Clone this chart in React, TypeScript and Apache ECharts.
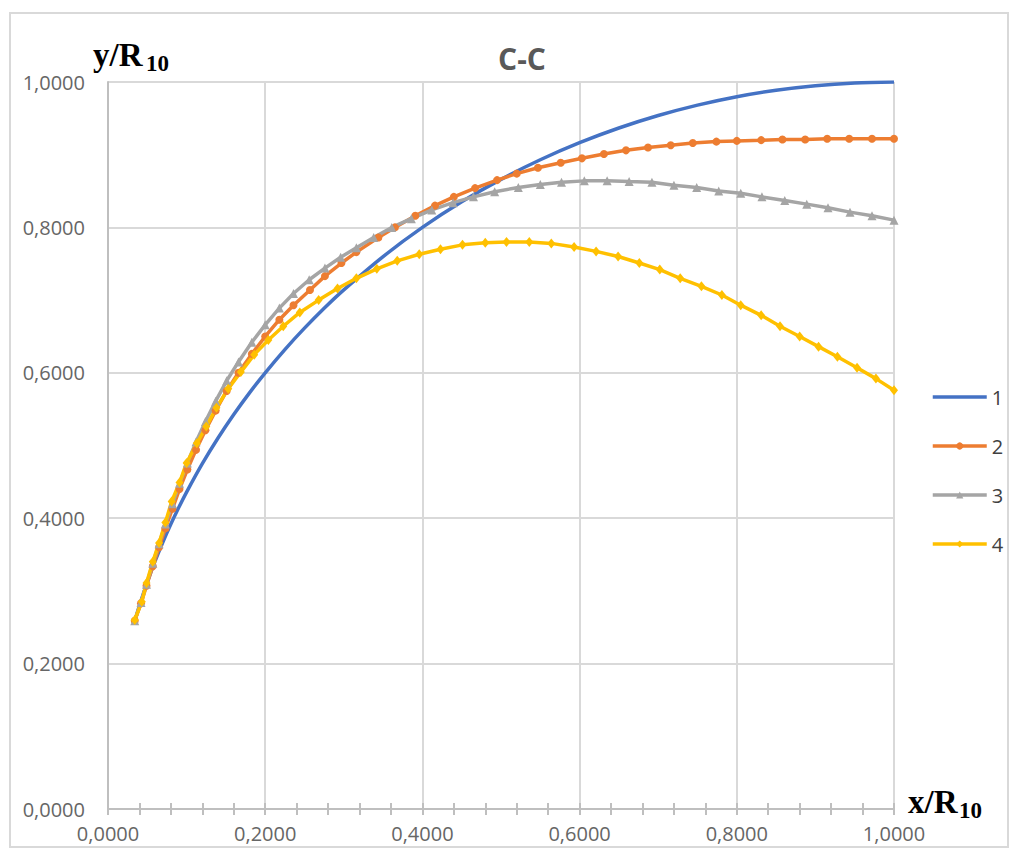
import React, { useEffect, useRef } from "react";
import * as echarts from "echarts";

// ---- data ----
const X_TICKS = [0, 0.2, 0.4, 0.6, 0.8, 1.0];
const Y_TICKS = [0, 0.2, 0.4, 0.6, 0.8, 1.0];
const SERIES_NAMES = ["1", "2", "3", "4"];

const s1X = [0.034, 0.04, 0.05, 0.06, 0.07, 0.08, 0.09, 0.1, 0.12, 0.14, 0.16, 0.18, 0.2, 0.225, 0.25, 0.275, 0.3, 0.35, 0.4, 0.45, 0.5, 0.55, 0.6, 0.65, 0.7, 0.75, 0.8, 0.85, 0.9, 0.95, 1.0];
const s1Y = [0.2585, 0.28, 0.3122, 0.3412, 0.3676, 0.3919, 0.4146, 0.4359, 0.475, 0.5103, 0.5426, 0.5724, 0.6, 0.632, 0.6614, 0.6888, 0.7141, 0.7599, 0.8, 0.8352, 0.866, 0.893, 0.9165, 0.9367, 0.9539, 0.9682, 0.9798, 0.9887, 0.995, 0.9987, 1.0];

const s2X = [0.034, 0.042, 0.049, 0.057, 0.065, 0.073, 0.082, 0.091, 0.101, 0.112, 0.124, 0.137, 0.151, 0.166, 0.183, 0.2, 0.218, 0.236, 0.257, 0.276, 0.297, 0.316, 0.344, 0.365, 0.391, 0.416, 0.44, 0.467, 0.495, 0.52, 0.547, 0.576, 0.603, 0.631, 0.659, 0.687, 0.716, 0.744, 0.774, 0.8, 0.831, 0.858, 0.887, 0.915, 0.943, 0.972, 1.0];
const s2Y = [0.259, 0.283, 0.307, 0.334, 0.36, 0.386, 0.413, 0.44, 0.467, 0.494, 0.521, 0.548, 0.575, 0.6, 0.626, 0.65, 0.673, 0.693, 0.714, 0.733, 0.751, 0.766, 0.786, 0.8, 0.816, 0.83, 0.842, 0.854, 0.865, 0.874, 0.882, 0.889, 0.895, 0.901, 0.906, 0.91, 0.913, 0.916, 0.918, 0.919, 0.92, 0.921, 0.921, 0.922, 0.922, 0.922, 0.922];

const s3X = [0.034, 0.042, 0.049, 0.057, 0.065, 0.073, 0.082, 0.091, 0.101, 0.112, 0.124, 0.137, 0.151, 0.166, 0.183, 0.2, 0.218, 0.236, 0.256, 0.276, 0.296, 0.316, 0.338, 0.361, 0.386, 0.412, 0.439, 0.465, 0.492, 0.522, 0.55, 0.577, 0.606, 0.635, 0.663, 0.692, 0.72, 0.749, 0.777, 0.805, 0.832, 0.861, 0.889, 0.916, 0.944, 0.972, 1.0];
const s3Y = [0.259, 0.284, 0.309, 0.338, 0.365, 0.392, 0.42, 0.448, 0.476, 0.505, 0.533, 0.561, 0.589, 0.615, 0.642, 0.666, 0.689, 0.709, 0.728, 0.744, 0.759, 0.772, 0.786, 0.8, 0.812, 0.824, 0.834, 0.842, 0.849, 0.855, 0.859, 0.862, 0.864, 0.864, 0.863, 0.862, 0.858, 0.855, 0.85, 0.847, 0.842, 0.837, 0.832, 0.827, 0.821, 0.816, 0.81];

const s4X = [0.034, 0.043, 0.049, 0.057, 0.065, 0.073, 0.081, 0.091, 0.1, 0.113, 0.125, 0.138, 0.153, 0.169, 0.186, 0.204, 0.223, 0.244, 0.268, 0.292, 0.316, 0.342, 0.368, 0.396, 0.423, 0.451, 0.48, 0.507, 0.536, 0.564, 0.593, 0.621, 0.649, 0.676, 0.702, 0.728, 0.755, 0.781, 0.805, 0.831, 0.855, 0.88, 0.904, 0.928, 0.953, 0.977, 1.0];
const s4Y = [0.26, 0.285, 0.311, 0.34, 0.366, 0.394, 0.423, 0.449, 0.476, 0.503, 0.526, 0.552, 0.578, 0.601, 0.625, 0.645, 0.664, 0.683, 0.7, 0.716, 0.73, 0.743, 0.754, 0.763, 0.77, 0.776, 0.779, 0.78, 0.78, 0.778, 0.773, 0.767, 0.76, 0.751, 0.742, 0.73, 0.719, 0.707, 0.693, 0.679, 0.664, 0.65, 0.636, 0.622, 0.607, 0.592, 0.576];

const COLORS = ["#4472C4", "#ED7D31", "#A5A5A5", "#FFC000"];

const pairs = (xs: number[], ys: number[]) => xs.map((x, i) => [x, ys[i]]);
const fmt = (v: number) => v.toFixed(4).replace(".", ",");

export default function App() {
  const ref = useRef<HTMLDivElement>(null);
  useEffect(() => {
    if (!ref.current) return;
    const chart = echarts.init(ref.current, null, { renderer: "svg" });
    const serif = "'Liberation Serif', 'Times New Roman', serif";
    const sans = "'Open Sans', sans-serif";
    const xMin = X_TICKS[0];
    const xMax = X_TICKS[X_TICKS.length - 1];
    const yMin = Y_TICKS[0];
    const yMax = Y_TICKS[Y_TICKS.length - 1];
    const step = X_TICKS[1] - X_TICKS[0];
    const ystep = Y_TICKS[1] - Y_TICKS[0];
    chart.setOption({
      animation: false,
      backgroundColor: "#ffffff",
      grid: { left: 108, top: 82, right: 125, bottom: 44 },
      legend: {
        orient: "vertical",
        left: 931,
        top: 387,
        padding: 0,
        itemWidth: 54,
        itemHeight: 9,
        itemGap: 29,
        lineStyle: { width: 3.5 },
        textStyle: { fontFamily: sans, fontSize: 20, color: "#404040", lineHeight: 20 },
        data: [
          { name: SERIES_NAMES[0], itemStyle: { opacity: 0 } },
          SERIES_NAMES[1],
          SERIES_NAMES[2],
          SERIES_NAMES[3],
        ],
      },
      xAxis: [
        {
          type: "value",
          min: xMin,
          max: xMax,
          interval: step,
          axisLine: { show: true, lineStyle: { color: "#BFBFBF", width: 2 } },
          axisTick: { show: false },
          axisLabel: { formatter: fmt, fontFamily: sans, fontSize: 20, color: "#666666", margin: 14 },
          splitLine: { show: true, lineStyle: { color: "#D9D9D9", width: 2 } },
        },
        {
          type: "value",
          min: xMin,
          max: xMax,
          interval: step,
          position: "bottom",
          offset: -6,
          axisLine: { show: false },
          axisTick: { show: true, length: 12, lineStyle: { color: "#BFBFBF", width: 2 } },
          minorTick: { show: true, splitNumber: 5, length: 12, lineStyle: { color: "#BFBFBF", width: 2 } },
          axisLabel: { show: false },
          splitLine: { show: false },
        },
      ],
      yAxis: {
        type: "value",
        min: yMin,
        max: yMax,
        interval: ystep,
        axisLine: { show: true, lineStyle: { color: "#BFBFBF", width: 2 } },
        axisTick: { show: false },
        axisLabel: { formatter: fmt, fontFamily: sans, fontSize: 20, color: "#666666", margin: 23 },
        splitLine: { show: true, lineStyle: { color: "#D9D9D9", width: 2 } },
      },
      series: [
        {
          name: SERIES_NAMES[0],
          type: "line",
          data: pairs(s1X, s1Y),
          symbol: "none",
          smooth: 0.3,
          lineStyle: { color: COLORS[0], width: 3.5 },
          itemStyle: { color: COLORS[0] },
        },
        {
          name: SERIES_NAMES[1],
          type: "line",
          data: pairs(s2X, s2Y),
          symbol: "circle",
          symbolSize: 8,
          lineStyle: { color: COLORS[1], width: 3.5 },
          itemStyle: { color: COLORS[1] },
        },
        {
          name: SERIES_NAMES[2],
          type: "line",
          data: pairs(s3X, s3Y),
          symbol: "triangle",
          symbolSize: 9,
          lineStyle: { color: COLORS[2], width: 3.5 },
          itemStyle: { color: COLORS[2] },
        },
        {
          name: SERIES_NAMES[3],
          type: "line",
          data: pairs(s4X, s4Y),
          symbol: "diamond",
          symbolSize: [8, 10],
          lineStyle: { color: COLORS[3], width: 3.5 },
          itemStyle: { color: COLORS[3] },
        },
      ],
      graphic: [
        {
          type: "rect",
          silent: true,
          z: -10,
          shape: { x: 10, y: 13, width: 998, height: 834 },
          style: { fill: "none", stroke: "#D9D9D9", lineWidth: 2 },
        },
        {
          type: "text",
          x: 522,
          y: 58,
          style: { text: "C-C", fontFamily: sans, fontSize: 30, fontWeight: "bold", fill: "#595959", align: "center", verticalAlign: "middle" },
        },
        {
          type: "text",
          x: 93,
          y: 55,
          style: { text: "y/R", fontFamily: serif, fontSize: 33, fontWeight: "bold", fill: "#000000", align: "left", verticalAlign: "middle" },
        },
        {
          type: "text",
          x: 146,
          y: 63,
          style: { text: "10", fontFamily: serif, fontSize: 23, fontWeight: "bold", fill: "#000000", align: "left", verticalAlign: "middle" },
        },
        {
          type: "text",
          x: 908,
          y: 802,
          style: { text: "x/R", fontFamily: serif, fontSize: 33, fontWeight: "bold", fill: "#000000", align: "left", verticalAlign: "middle" },
        },
        {
          type: "text",
          x: 959,
          y: 810,
          style: { text: "10", fontFamily: serif, fontSize: 23, fontWeight: "bold", fill: "#000000", align: "left", verticalAlign: "middle" },
        },
      ],
    });
    return () => chart.dispose();
  }, []);
  return (
    <div
      ref={ref}
      style={{ position: "fixed", left: 0, top: 0, width: 1019, height: 853, background: "#fff" }}
    />
  );
}
